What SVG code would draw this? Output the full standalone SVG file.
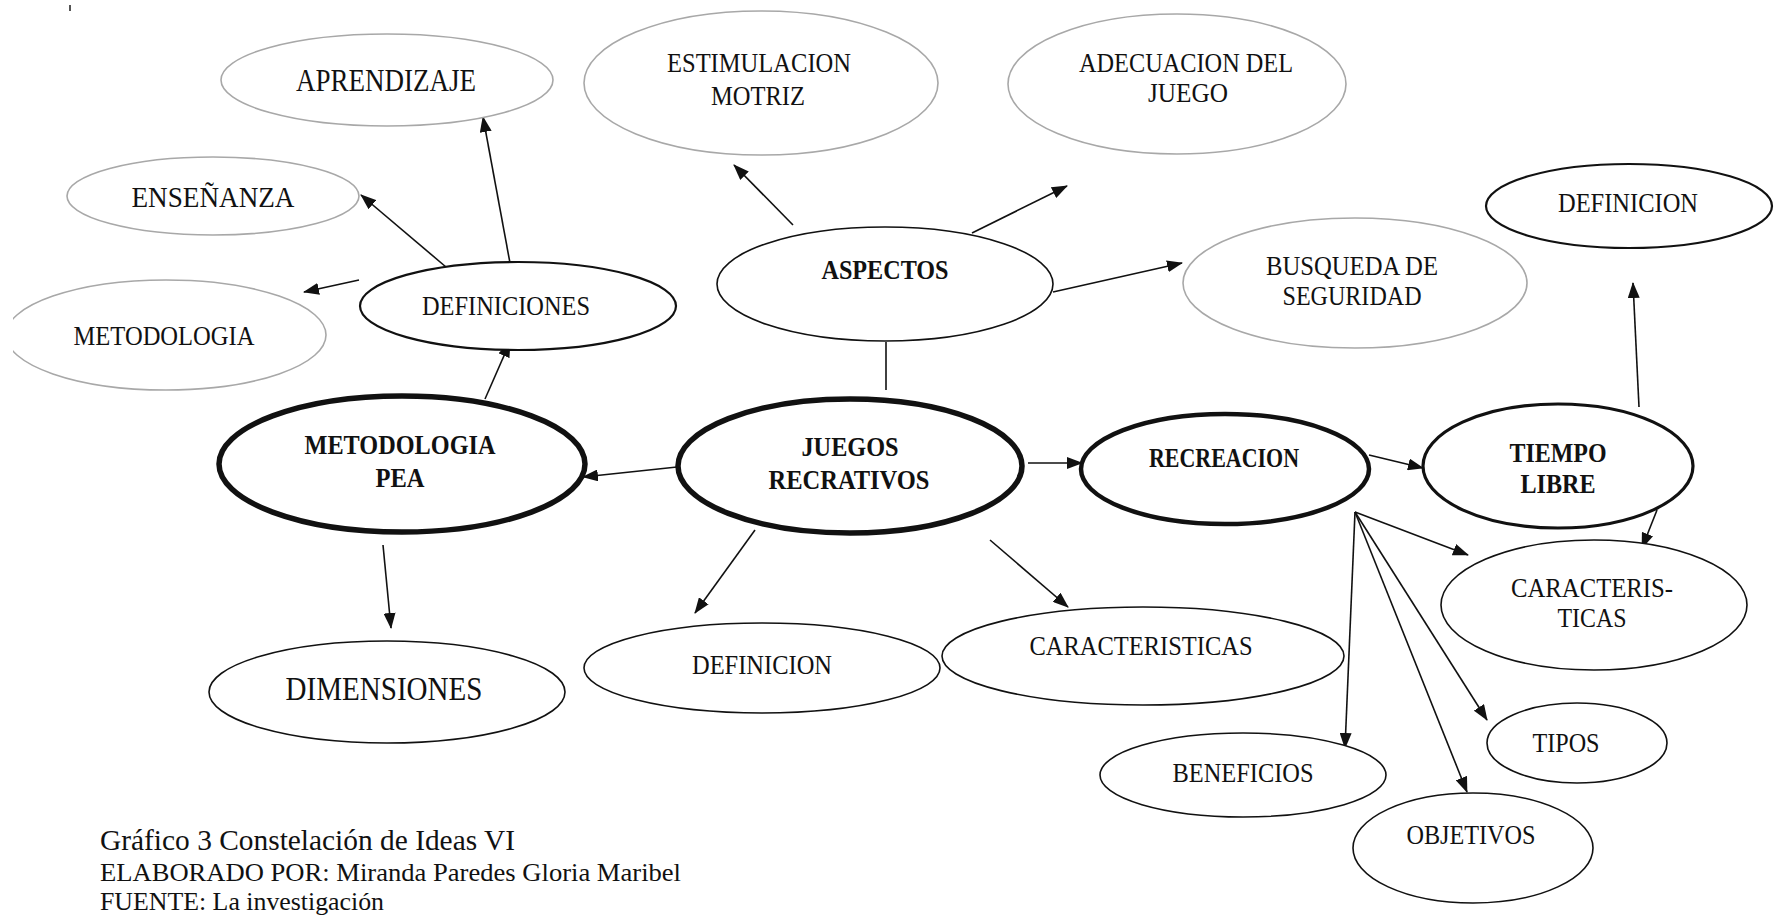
<svg xmlns="http://www.w3.org/2000/svg" width="1778" height="919" viewBox="0 0 1778 919">
<style>
text{font-family:"Liberation Serif","Times New Roman",serif;fill:#111;text-anchor:middle;}
.t{font-size:28px;}
.b{font-size:28px;font-weight:bold;}
.lg{fill:#fff;stroke:#a8a8a8;stroke-width:1.6;}
.n{fill:#fff;stroke:#111;stroke-width:1.6;}
.n2{fill:#fff;stroke:#111;stroke-width:2.2;}
.m{fill:#fff;stroke:#111;stroke-width:3.2;}
.k{fill:#fff;stroke:#111;stroke-width:4.5;}
.K{fill:#fff;stroke:#111;stroke-width:5.5;}
.c{stroke:#111;stroke-width:1.6;fill:none;}
.a{marker-end:url(#ah);}
.f{font-size:26px;text-anchor:start;}
</style>
<defs>
<marker id="ah" markerUnits="userSpaceOnUse" markerWidth="16" markerHeight="12" refX="15" refY="6" orient="auto">
<path d="M0,0 L16,6 L0,12 z" fill="#111"/>
</marker>
<clipPath id="cl"><rect x="13" y="0" width="400" height="919"/></clipPath>
</defs>
<rect width="1778" height="919" fill="#fff"/>
<rect x="69" y="5" width="2" height="6" fill="#555"/>

<g id="connectors">
<line class="c a" x1="510" y1="263" x2="483" y2="117"/>
<line class="c a" x1="446" y1="267" x2="361" y2="195"/>
<line class="c a" x1="359" y1="280" x2="304" y2="292"/>
<line class="c a" x1="485" y1="399" x2="510" y2="342"/>
<line class="c a" x1="677" y1="467" x2="583" y2="477"/>
<line class="c a" x1="383" y1="545" x2="391" y2="628"/>
<line class="c a" x1="755" y1="530" x2="695" y2="613"/>
<line class="c a" x1="990" y1="540" x2="1068" y2="607"/>
<line class="c a" x1="1028" y1="463" x2="1082" y2="463"/>
<line class="c" x1="886" y1="342" x2="886" y2="390"/>
<line class="c a" x1="793" y1="225" x2="734" y2="165"/>
<line class="c a" x1="972" y1="233" x2="1067" y2="186"/>
<line class="c a" x1="1053" y1="292" x2="1182" y2="263"/>
<line class="c a" x1="1369" y1="455" x2="1423" y2="468"/>
<line class="c a" x1="1639" y1="407" x2="1633" y2="283"/>
<line class="c a" x1="1657" y1="510" x2="1642" y2="548"/>
<line class="c a" x1="1355" y1="512" x2="1468" y2="555"/>
<line class="c a" x1="1355" y1="512" x2="1487" y2="720"/>
<line class="c a" x1="1355" y1="512" x2="1467" y2="792"/>
<line class="c a" x1="1355" y1="512" x2="1345" y2="748"/>
</g>

<g id="aprendizaje"><ellipse class="lg" cx="387" cy="80" rx="166" ry="46"/><text class="t" style="font-size:31px" x="386" y="91" textLength="180" lengthAdjust="spacingAndGlyphs">APRENDIZAJE</text></g>
<g id="ensenanza"><ellipse class="lg" cx="213" cy="196" rx="146" ry="39"/><text class="t" style="font-size:30px" x="213" y="207" textLength="163" lengthAdjust="spacingAndGlyphs">ENSEÑANZA</text></g>
<g id="metodologia"><ellipse class="lg" cx="166" cy="335" rx="160" ry="55" clip-path="url(#cl)"/><text class="t" x="164" y="345" textLength="181" lengthAdjust="spacingAndGlyphs">METODOLOGIA</text></g>
<g id="definiciones"><ellipse class="n2" cx="518" cy="306" rx="158" ry="44"/><text class="t" x="506" y="315" textLength="168" lengthAdjust="spacingAndGlyphs">DEFINICIONES</text></g>
<g id="estimulacion"><ellipse class="lg" cx="761" cy="83" rx="177" ry="72"/><text class="t" x="759" y="72" textLength="184" lengthAdjust="spacingAndGlyphs">ESTIMULACION</text><text class="t" x="758" y="105" textLength="94" lengthAdjust="spacingAndGlyphs">MOTRIZ</text></g>
<g id="adecuacion"><ellipse class="lg" cx="1177" cy="84" rx="169" ry="70"/><text class="t" x="1186" y="72" textLength="214" lengthAdjust="spacingAndGlyphs">ADECUACION DEL</text><text class="t" x="1188" y="102" textLength="80" lengthAdjust="spacingAndGlyphs">JUEGO</text></g>
<g id="aspectos"><ellipse class="n" cx="885" cy="284" rx="168" ry="57"/><text class="b" x="885" y="279" textLength="127" lengthAdjust="spacingAndGlyphs">ASPECTOS</text></g>
<g id="busqueda"><ellipse class="lg" cx="1355" cy="283" rx="172" ry="65"/><text class="t" x="1352" y="275" textLength="172" lengthAdjust="spacingAndGlyphs">BUSQUEDA DE</text><text class="t" x="1352" y="305" textLength="139" lengthAdjust="spacingAndGlyphs">SEGURIDAD</text></g>
<g id="definicion-tl"><ellipse class="n2" cx="1629" cy="206" rx="143" ry="42"/><text class="t" x="1628" y="212" textLength="140" lengthAdjust="spacingAndGlyphs">DEFINICION</text></g>
<g id="tiempo-libre"><ellipse class="m" cx="1558" cy="466" rx="135" ry="62"/><text class="b" x="1558" y="462" textLength="97" lengthAdjust="spacingAndGlyphs">TIEMPO</text><text class="b" x="1558" y="493" textLength="75" lengthAdjust="spacingAndGlyphs">LIBRE</text></g>
<g id="recreacion"><ellipse class="k" cx="1225" cy="469" rx="144" ry="55"/><text class="b" x="1224" y="467" textLength="150" lengthAdjust="spacingAndGlyphs">RECREACION</text></g>
<g id="juegos"><ellipse class="K" cx="850" cy="466" rx="172" ry="67"/><text class="b" x="850" y="456" textLength="97" lengthAdjust="spacingAndGlyphs">JUEGOS</text><text class="b" x="849" y="489" textLength="161" lengthAdjust="spacingAndGlyphs">RECRATIVOS</text></g>
<g id="metodologia-pea"><ellipse class="K" cx="402" cy="464" rx="183" ry="68"/><text class="b" x="400" y="454" textLength="191" lengthAdjust="spacingAndGlyphs">METODOLOGIA</text><text class="b" x="400" y="487" textLength="49" lengthAdjust="spacingAndGlyphs">PEA</text></g>
<g id="dimensiones"><ellipse class="n" cx="387" cy="692" rx="178" ry="51"/><text class="t" style="font-size:34px" x="384" y="700" textLength="197" lengthAdjust="spacingAndGlyphs">DIMENSIONES</text></g>
<g id="definicion-b"><ellipse class="n" cx="762" cy="668" rx="178" ry="45"/><text class="t" x="762" y="674" textLength="140" lengthAdjust="spacingAndGlyphs">DEFINICION</text></g>
<g id="caracteristicas"><ellipse class="n" cx="1143" cy="656" rx="201" ry="49"/><text class="t" x="1141" y="655" textLength="223" lengthAdjust="spacingAndGlyphs">CARACTERISTICAS</text></g>
<g id="caracteris-ticas"><ellipse class="n" cx="1594" cy="605" rx="153" ry="65"/><text class="t" x="1592" y="597" textLength="162" lengthAdjust="spacingAndGlyphs">CARACTERIS-</text><text class="t" x="1592" y="627" textLength="69" lengthAdjust="spacingAndGlyphs">TICAS</text></g>
<g id="tipos"><ellipse class="n" cx="1577" cy="743" rx="90" ry="40"/><text class="t" x="1566" y="752" textLength="67" lengthAdjust="spacingAndGlyphs">TIPOS</text></g>
<g id="beneficios"><ellipse class="n" cx="1243" cy="775" rx="143" ry="42"/><text class="t" x="1243" y="782" textLength="141" lengthAdjust="spacingAndGlyphs">BENEFICIOS</text></g>
<g id="objetivos"><ellipse class="n" cx="1473" cy="848" rx="120" ry="55"/><text class="t" x="1471" y="844" textLength="129" lengthAdjust="spacingAndGlyphs">OBJETIVOS</text></g>

<g id="caption">
<text class="f" style="font-size:29px" x="100" y="850" textLength="415" lengthAdjust="spacingAndGlyphs">Gráfico 3 Constelación de Ideas VI</text>
<text class="f" x="100" y="881" textLength="581" lengthAdjust="spacingAndGlyphs">ELABORADO POR: Miranda Paredes Gloria Maribel</text>
<text class="f" style="font-size:25px" x="100" y="910" textLength="284" lengthAdjust="spacingAndGlyphs">FUENTE: La investigación</text>
</g>
</svg>
